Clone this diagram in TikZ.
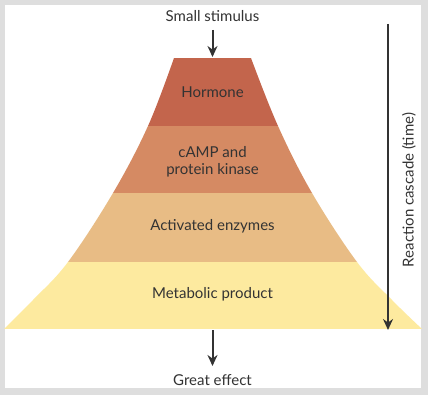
\documentclass[tikz,border=0pt]{standalone}
\usepackage{fontspec}
\setmainfont{Lato}
\usetikzlibrary{arrows.meta}
\definecolor{hormc}{HTML}{C3654C}
\definecolor{campc}{HTML}{D58A63}
\definecolor{enzc}{HTML}{E8BC85}
\definecolor{metc}{HTML}{FDEA9F}
\definecolor{txtc}{HTML}{333333}
\definecolor{framec}{HTML}{DEDEDE}
\tikzset{
  lbl/.style={text=txtc, font=\fontsize{15}{17}\selectfont, align=center, inner sep=0pt},
  arr/.style={draw=txtc, line width=2pt, -{Stealth[length=11pt,width=10pt]}}
}
\begin{document}
\begin{tikzpicture}[x=1pt,y=-1pt]
\useasboundingbox (0,0) rectangle (428,395);
\fill[framec] (0,0) rectangle (428,395);
\fill[white] (5,5) rectangle (421,388);
\begin{scope}
\clip plot[smooth,tension=0.6] coordinates {(174,58) (148,126) (113,193) (68,262) (33,300) (4,329)}
  -- plot[smooth,tension=0.6] coordinates {(422,329) (392,300) (357,262) (312,193) (278,126) (251,58)} -- cycle;
\fill[hormc] (0,58) rectangle (428,126);
\fill[campc] (0,126) rectangle (428,193);
\fill[enzc] (0,193) rectangle (428,262);
\fill[metc] (0,262) rectangle (428,329);
\end{scope}
\coordinate (ptop) at (212.5,57);
\coordinate (pbot) at (212.5,330);
\node[lbl] (stim) at (212.5,16) {Small stimulus};
\node[lbl] (horm) at (212.5,92) {Hormone};
\node[lbl] (camp) at (212.5,162) {cAMP and\\protein kinase};
\node[lbl] (enz) at (212.5,226) {Activated enzymes};
\node[lbl] (met) at (212.5,294) {Metabolic product};
\node[lbl] (eff) at (212.5,380) {Great effect};
\coordinate (c1) at (388,24);
\coordinate (c2) at (388,330);
\node[lbl, rotate=90] (casc) at (409,190) {Reaction cascade (time)};
\draw[arr] (212.5,30) -- (ptop);
\draw[arr] (pbot) -- (212.5,366);
\draw[arr] (c1) -- (c2);
\end{tikzpicture}
\end{document}
